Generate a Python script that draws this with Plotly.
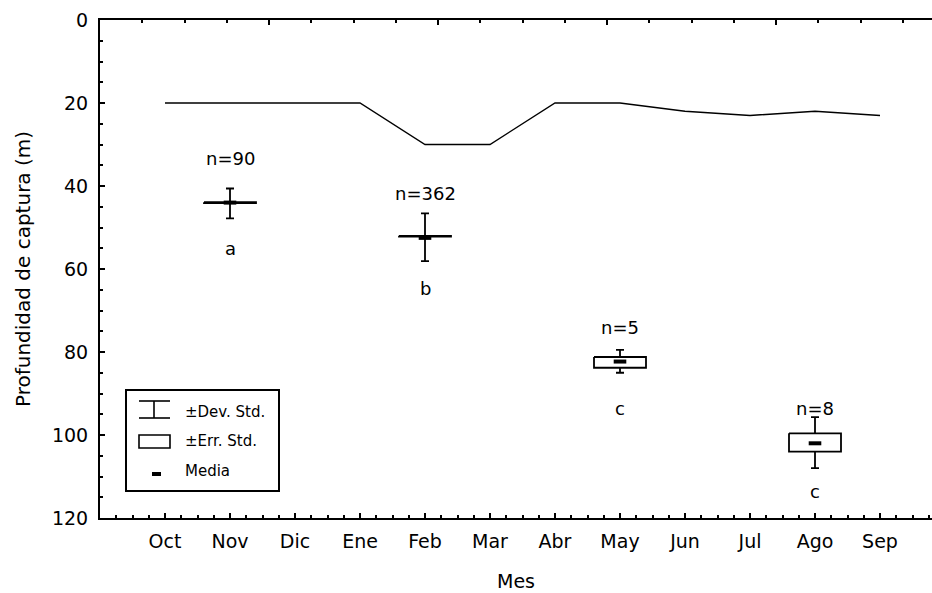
import plotly.graph_objects as go

# Months of the sampling year (Oct .. Sep)
months = ["Oct", "Nov", "Dic", "Ene", "Feb", "Mar", "Abr", "May", "Jun", "Jul", "Ago", "Sep"]
# Reference depth line per month (m)
line_depth = [20, 20, 20, 20, 30, 30, 20, 20, 22, 23, 22, 23]

# Capture depth statistics for the sampled months
sample_months = ["Nov", "Feb", "May", "Ago"]
mean_depth = [44.0, 52.5, 82.3, 102.0]
sd_low = [40.6, 46.6, 79.5, 95.7]
sd_high = [47.8, 58.1, 85.0, 108.0]
se_low = [43.9, 52.0, 81.2, 99.6]
se_high = [44.1, 52.2, 83.8, 104.0]
n_labels = ["n=90", "n=362", "n=5", "n=8"]
group_letters = ["a", "b", "c", "c"]
n_label_depth = [33.3, 41.9, 74.2, 93.5]
letter_depth = [55.0, 64.8, 93.5, 113.7]

yticks = [0, 20, 40, 60, 80, 100, 120]

FONT = "DejaVu Sans"
BLACK = "#000000"

month_pos = {m: i + 1 for i, m in enumerate(months)}
xs = [month_pos[m] for m in sample_months]
box_half = 0.4

fig = go.Figure()

# Reference depth line
fig.add_trace(go.Scatter(
    x=[month_pos[m] for m in months], y=line_depth, mode="lines",
    line=dict(color=BLACK, width=1.4), hoverinfo="skip", showlegend=False))

# Standard deviation whiskers
fig.add_trace(go.Scatter(
    x=xs, y=mean_depth, mode="markers", marker=dict(size=1, color="rgba(0,0,0,0)"),
    error_y=dict(type="data", symmetric=False,
                 array=[h - m for h, m in zip(sd_high, mean_depth)],
                 arrayminus=[m - l for m, l in zip(mean_depth, sd_low)],
                 width=4, thickness=1.8, color=BLACK),
    hoverinfo="skip", showlegend=False))

# Standard error boxes
for x, lo, hi in zip(xs, se_low, se_high):
    fig.add_trace(go.Scatter(
        x=[x - box_half, x + box_half, x + box_half, x - box_half, x - box_half],
        y=[lo, lo, hi, hi, lo], mode="lines", fill="toself", fillcolor="white",
        line=dict(color=BLACK, width=1.8), hoverinfo="skip", showlegend=False))

# Means
fig.add_trace(go.Scatter(
    x=xs, y=mean_depth, mode="markers",
    marker=dict(symbol="line-ew", size=9, line=dict(color=BLACK, width=4)),
    hoverinfo="skip", showlegend=False))

# Invisible trace anchoring the top axis
fig.add_trace(go.Scatter(x=[0], y=[0], xaxis="x2", mode="markers",
                         marker=dict(size=1, color="rgba(0,0,0,0)"),
                         hoverinfo="skip", showlegend=False))

annotations = []
for x, t, yv in zip(xs, n_labels, n_label_depth):
    annotations.append(dict(x=x, y=yv, xref="x", yref="y", text=t, showarrow=False,
                            font=dict(family=FONT, size=18, color=BLACK)))
for x, t, yv in zip(xs, group_letters, letter_depth):
    annotations.append(dict(x=x, y=yv, xref="x", yref="y", text=t, showarrow=False,
                            font=dict(family=FONT, size=18, color=BLACK)))

# Legend drawn in pixel space of the plot area
L, T, W, H = 100, 20, 832, 498


def px(xp):
    return (xp - L) / W


def py(yp):
    return (T + H - yp) / H


shapes = [
    dict(type="rect", xref="paper", yref="paper", x0=px(126), x1=px(279), y0=py(491), y1=py(390),
         line=dict(color=BLACK, width=2), fillcolor="white", layer="above"),
    # whisker symbol
    dict(type="line", xref="paper", yref="paper", x0=px(139), x1=px(170), y0=py(401), y1=py(401),
         line=dict(color=BLACK, width=1.6), layer="above"),
    dict(type="line", xref="paper", yref="paper", x0=px(154), x1=px(154), y0=py(401), y1=py(418),
         line=dict(color=BLACK, width=1.6), layer="above"),
    dict(type="line", xref="paper", yref="paper", x0=px(139), x1=px(170), y0=py(418), y1=py(418),
         line=dict(color=BLACK, width=1.6), layer="above"),
    # box symbol
    dict(type="rect", xref="paper", yref="paper", x0=px(139), x1=px(170), y0=py(448), y1=py(435),
         line=dict(color=BLACK, width=1.6), layer="above"),
    # mean symbol
    dict(type="line", xref="paper", yref="paper", x0=px(152), x1=px(161), y0=py(474), y1=py(474),
         line=dict(color=BLACK, width=4), layer="above"),
]
for txt, yp in [("±Dev. Std.", 412), ("±Err. Std.", 441), ("Media", 471)]:
    annotations.append(dict(x=px(183), y=py(yp), xref="paper", yref="paper", text=txt,
                            showarrow=False, xanchor="left", yanchor="middle",
                            font=dict(family=FONT, size=15, color=BLACK)))

fig.update_layout(
    width=932, height=593,
    margin=dict(l=L, r=0, t=T, b=593 - T - H, pad=0),
    paper_bgcolor="white", plot_bgcolor="white",
    font=dict(family=FONT, size=19, color=BLACK),
    showlegend=False,
    xaxis=dict(range=[0, W / 65.0], tickmode="array", tickvals=list(range(1, 13)),
               ticktext=months, showgrid=False, zeroline=False,
               showline=True, linecolor=BLACK, linewidth=2,
               ticks="inside", ticklen=5, tickwidth=2, tickcolor=BLACK,
               ticklabelstandoff=5,
               minor=dict(dtick=0.25, tick0=0, ticks="inside", ticklen=3, tickwidth=1.5,
                          tickcolor=BLACK, showgrid=False),
               tickfont=dict(family=FONT, size=19),
               title=dict(text="Mes", font=dict(family=FONT, size=19), standoff=24)),
    xaxis2=dict(overlaying="x", side="top", range=[0, W / 42.25], showgrid=False,
                zeroline=False, showline=True, linecolor=BLACK, linewidth=2,
                ticks="inside", ticklen=5, tickwidth=2, tickcolor=BLACK,
                dtick=4, tick0=0, showticklabels=False,
                minor=dict(dtick=1, tick0=0, ticks="inside", ticklen=3, tickwidth=1.5,
                           tickcolor=BLACK, showgrid=False)),
    yaxis=dict(range=[120, 0], tickmode="array", tickvals=yticks,
               ticktext=[str(v) for v in yticks], showgrid=False, zeroline=False,
               showline=True, linecolor=BLACK, linewidth=2,
               ticks="inside", ticklen=5, tickwidth=2, tickcolor=BLACK,
               ticklabelstandoff=6,
               minor=dict(dtick=5, tick0=0, ticks="inside", ticklen=3, tickwidth=1.5,
                          tickcolor=BLACK, showgrid=False),
               tickfont=dict(family=FONT, size=19),
               title=dict(text="Profundidad de captura (m)", font=dict(family=FONT, size=20),
                          standoff=16)),
    shapes=shapes,
    annotations=annotations,
)

fig.write_html("out.html")
